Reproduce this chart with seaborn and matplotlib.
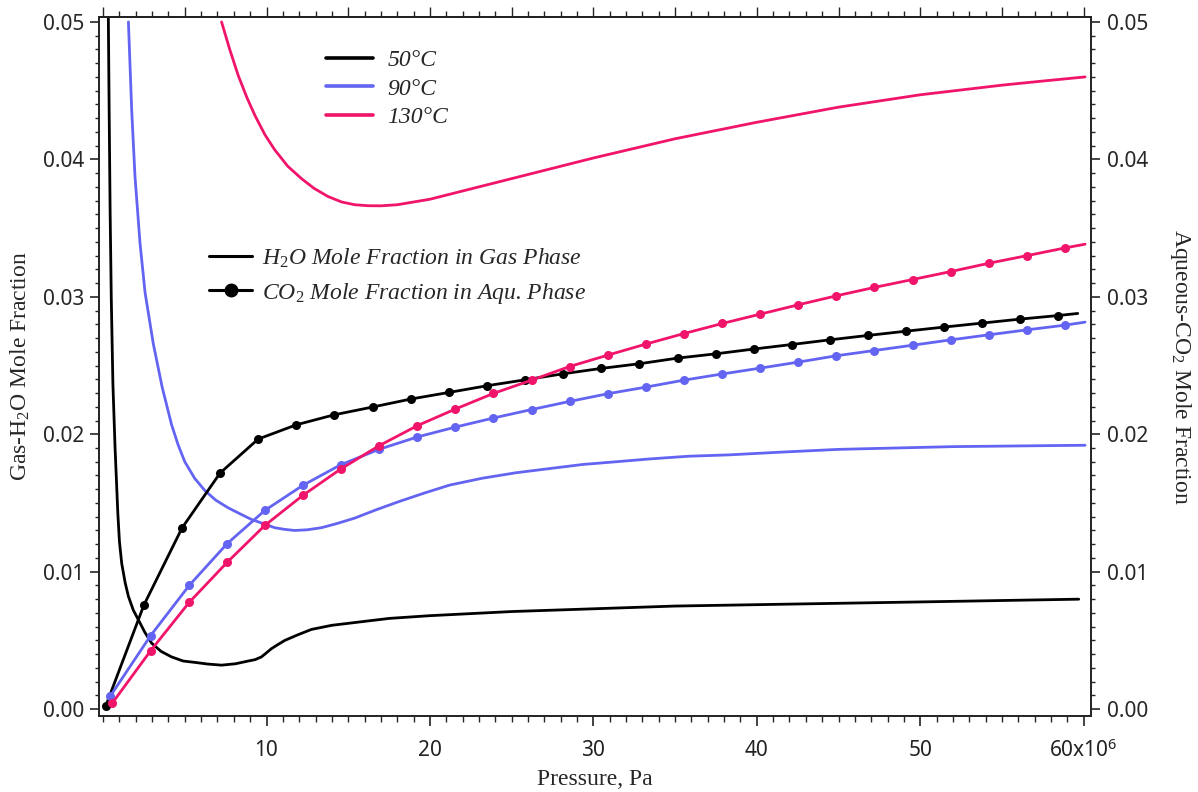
import matplotlib
matplotlib.use("Agg")
import matplotlib.pyplot as plt
from matplotlib.lines import Line2D
from matplotlib.ticker import MultipleLocator, FixedLocator, FixedFormatter, NullFormatter
import pandas as pd
import seaborn as sns

# ---- data (pressure in MPa, converted to Pa for plotting) ----
# H2O mole fraction in the gas phase
p_gas_50 = [0.32, 0.37, 0.43, 0.50, 0.60, 0.73, 0.90, 1.00, 1.14, 1.35, 1.55, 1.85, 2.16, 2.55,
            2.97, 3.55, 4.19, 4.9, 5.62, 6.4, 7.25, 8.1, 8.88, 9.3, 9.69, 10.0, 10.3, 10.7,
            11.12, 11.9, 12.75, 14.0, 15.4, 17.5, 20, 25, 30, 35, 40, 50, 59.7]
x_gas_50 = [0.0505, 0.0437, 0.0363, 0.0300, 0.0237, 0.0191, 0.0143, 0.0122, 0.0106, 0.0092,
            0.0082, 0.0072, 0.0065, 0.0056, 0.0048, 0.0042, 0.0038, 0.0035, 0.0034, 0.00328,
            0.0032, 0.0033, 0.0035, 0.0036, 0.0038, 0.0041, 0.0044, 0.0047, 0.0050, 0.0054,
            0.0058, 0.0061, 0.0063, 0.0066, 0.0068, 0.0071, 0.0073, 0.0075, 0.0076, 0.0078, 0.0080]

p_gas_90 = [1.55, 1.75, 1.95, 2.26, 2.57, 3.07, 3.62, 4.19, 4.6, 5.0, 5.6, 6.23, 6.9, 7.65, 8.4,
            9.08, 9.8, 10.5, 11.1, 11.73, 12.5, 13.36, 14.3, 15.4, 16.7, 18.1, 19.6, 21.2, 23.2,
            25.27, 27.3, 29.34, 31.4, 33.4, 35.8, 38.3, 41.5, 45, 48.5, 52, 56, 60.09]
x_gas_90 = [0.0500, 0.0436, 0.0388, 0.0339, 0.0303, 0.0266, 0.0234, 0.0207, 0.0192, 0.0180,
            0.0168, 0.0159, 0.0152, 0.01465, 0.0142, 0.0138, 0.0135, 0.0132, 0.01308, 0.0130,
            0.01305, 0.0132, 0.0135, 0.0139, 0.0145, 0.0151, 0.0157, 0.0163, 0.0168, 0.0172,
            0.0175, 0.0178, 0.0180, 0.0182, 0.0184, 0.0185, 0.0187, 0.0189, 0.0190, 0.0191,
            0.01915, 0.0192]

p_gas_130 = [7.25, 7.75, 8.27, 8.8, 9.29, 9.9, 10.5, 11.3, 12.14, 12.9, 13.76, 14.6, 15.4, 16.2,
             17.0, 18.0, 19.0, 20, 22.5, 25, 27.5, 30, 32.5, 35, 37.5, 40, 42.5, 45, 47.5, 50,
             52.5, 55, 57.5, 60.09]
x_gas_130 = [0.0500, 0.0480, 0.0461, 0.0445, 0.0432, 0.0418, 0.0407, 0.0395, 0.0386, 0.0379,
             0.0373, 0.0369, 0.0367, 0.03663, 0.03662, 0.0367, 0.0369, 0.0371, 0.03785, 0.0386,
             0.03935, 0.0401, 0.0408, 0.0415, 0.0421, 0.0427, 0.04325, 0.0438, 0.04425, 0.0447,
             0.04505, 0.0454, 0.0457, 0.0460]

# CO2 mole fraction in the aqueous phase (last point is the curve end, no marker)
p_aq_50 = [0.17, 2.50, 4.83, 7.16, 9.49, 11.83, 14.16, 16.49, 18.82, 21.15, 23.49, 25.82, 28.15,
           30.48, 32.81, 35.15, 37.48, 39.81, 42.14, 44.47, 46.80, 49.14, 51.47, 53.80, 56.13, 58.46, 59.64]
x_aq_50 = [0.00025, 0.00758, 0.01318, 0.01718, 0.01965, 0.02069, 0.02142, 0.02198, 0.02256, 0.02304,
           0.02353, 0.02396, 0.0244, 0.02479, 0.02513, 0.02554, 0.02585, 0.0262, 0.02653, 0.02687,
           0.02719, 0.0275, 0.0278, 0.02809, 0.02838, 0.02864, 0.02879]

p_aq_90 = [0.43, 2.91, 5.27, 7.59, 9.90, 12.22, 14.54, 16.88, 19.22, 21.55, 23.88, 26.23, 28.55,
           30.89, 33.21, 35.55, 37.85, 40.2, 42.54, 44.86, 47.18, 49.54, 51.88, 54.23, 56.55, 58.87, 60.09]
x_aq_90 = [0.00093, 0.00535, 0.0090, 0.01204, 0.01446, 0.01628, 0.01778, 0.0189, 0.0198, 0.02052,
           0.02118, 0.0218, 0.02239, 0.02295, 0.02343, 0.02394, 0.02438, 0.02481, 0.02525, 0.02571,
           0.02609, 0.02648, 0.02687, 0.02724, 0.0276, 0.02794, 0.02816]

p_aq_130 = [0.57, 2.91, 5.27, 7.59, 9.90, 12.22, 14.54, 16.88, 19.22, 21.55, 23.88, 26.23, 28.55,
            30.89, 33.21, 35.55, 37.89, 40.21, 42.54, 44.86, 47.18, 49.54, 51.88, 54.23, 56.55, 58.87, 60.09]
x_aq_130 = [0.00045, 0.00425, 0.00777, 0.01068, 0.01337, 0.01555, 0.01747, 0.01916, 0.02062, 0.02183,
            0.02297, 0.02394, 0.02493, 0.02576, 0.02656, 0.02733, 0.02806, 0.02874, 0.02942, 0.03007,
            0.03068, 0.03126, 0.03184, 0.03245, 0.033, 0.03356, 0.03383]

temperatures = ["50°C", "90°C", "130°C"]
colors = ["#000000", "#6464F2", "#F0146A"]
x_tick_labels = ["10", "20", "30", "40", "50", r"60x10$^{\mathsf{6}}$"]
y_tick_labels = ["0.00", "0.01", "0.02", "0.03", "0.04", "0.05"]

# ---- style ----
sns.set_style("ticks")
plt.rcParams["font.family"] = ["Noto Sans", "DejaVu Sans"]
plt.rcParams["mathtext.fontset"] = "custom"
plt.rcParams["mathtext.rm"] = "Liberation Serif"
plt.rcParams["mathtext.it"] = "Liberation Serif:italic"
plt.rcParams["mathtext.sf"] = "Noto Sans"

SERIF = "Liberation Serif"

fig = plt.figure(figsize=(11.98, 7.92), dpi=100)
ax = fig.add_axes([99 / 1198, 1 - 716 / 792, (1091 - 99) / 1198, (716 - 17) / 792])

gas_sets = [(p_gas_50, x_gas_50), (p_gas_90, x_gas_90), (p_gas_130, x_gas_130)]
aq_sets = [(p_aq_50, x_aq_50), (p_aq_90, x_aq_90), (p_aq_130, x_aq_130)]

for (p, xf), c in zip(gas_sets, colors):
    df = pd.DataFrame({"P": [v * 1e6 for v in p], "X": xf})
    sns.lineplot(data=df, x="P", y="X", ax=ax, color=c, lw=2.0, sort=False,
                 estimator=None, legend=False)

for (p, xf), c in zip(aq_sets, colors):
    df = pd.DataFrame({"P": [v * 1e6 for v in p], "X": xf})
    sns.lineplot(data=df, x="P", y="X", ax=ax, color=c, lw=2.0, sort=False,
                 estimator=None, legend=False, marker="o", markersize=6.5,
                 markeredgewidth=0, markevery=list(range(len(p) - 1)))

ax.set_xlim(-0.25e6, 60.45e6)
ax.set_ylim(-0.0005, 0.05036)

# bottom axis
ax.xaxis.set_major_locator(FixedLocator([10e6, 20e6, 30e6, 40e6, 50e6, 60e6]))
ax.xaxis.set_major_formatter(FixedFormatter(x_tick_labels))
ax.xaxis.set_minor_locator(MultipleLocator(1e6))
# left axis
ax.yaxis.set_major_locator(FixedLocator([0, 0.01, 0.02, 0.03, 0.04, 0.05]))
ax.yaxis.set_major_formatter(FixedFormatter(y_tick_labels))
ax.yaxis.set_minor_locator(MultipleLocator(0.001))

ax.tick_params(axis="x", which="major", direction="out", length=7, width=1.2,
               labelsize=15, pad=10, colors="#222222")
ax.tick_params(axis="x", which="minor", direction="out", length=4.5, width=1.0)
ax.tick_params(axis="y", which="major", direction="out", length=6.5, width=1.2,
               labelsize=15, pad=4)
ax.tick_params(axis="y", which="minor", direction="out", length=3, width=1.0)

# top axis: unlabeled ticks
top = ax.secondary_xaxis("top")
top.xaxis.set_major_locator(MultipleLocator(5e6))
top.xaxis.set_minor_locator(MultipleLocator(1e6))
top.xaxis.set_major_formatter(NullFormatter())
top.tick_params(which="major", direction="out", length=7, width=1.0)
top.tick_params(which="minor", direction="out", length=4, width=1.0)

# right axis with the same scale
right = ax.twinx()
right.set_ylim(ax.get_ylim())
right.yaxis.set_major_locator(FixedLocator([0, 0.01, 0.02, 0.03, 0.04, 0.05]))
right.yaxis.set_major_formatter(FixedFormatter(y_tick_labels))
right.yaxis.set_minor_locator(MultipleLocator(0.001))
right.tick_params(axis="y", which="major", direction="out", length=6.5, width=1.2,
                  labelsize=15, pad=5)
right.tick_params(axis="y", which="minor", direction="out", length=3, width=1.0)

for a in (ax, right):
    for s in a.spines.values():
        s.set_linewidth(1.2)
        s.set_color("#222222")
top.spines["top"].set_linewidth(1.2)

ax.set_xlabel("Pressure, Pa", fontsize=17, family=SERIF, labelpad=5)
ax.set_ylabel(r"Gas-H$_2$O Mole Fraction", fontsize=17, family=SERIF, labelpad=8)
right.set_ylabel(r"Aqueous-CO$_2$ Mole Fraction", fontsize=17, family=SERIF,
                 rotation=270, labelpad=32)

# legends
temp_handles = [Line2D([], [], color=c, lw=2.6) for c in colors]
leg1 = ax.legend(temp_handles, temperatures, loc="upper left",
                 bbox_to_anchor=(0.212, 0.977), frameon=False,
                 prop={"family": SERIF, "style": "italic", "size": 17},
                 handlelength=2.0, handletextpad=0.6, labelspacing=0.3,
                 borderpad=0.2)
ax.add_artist(leg1)

phase_handles = [Line2D([], [], color="black", lw=2.2),
                 Line2D([], [], color="black", lw=2.2, marker="o", markersize=9)]
phase_labels = [r"H$_{\mathit{2}}$O Mole Fraction in Gas Phase",
                r"CO$_{\mathit{2}}$ Mole Fraction in Aqu. Phase"]
ax.legend(phase_handles, phase_labels, loc="upper left",
          bbox_to_anchor=(0.094, 0.695), frameon=False,
          prop={"family": SERIF, "style": "italic", "size": 17},
          handlelength=1.85, handletextpad=0.4, labelspacing=0.45, borderpad=0.2)

fig.savefig("out.png", dpi=100)
